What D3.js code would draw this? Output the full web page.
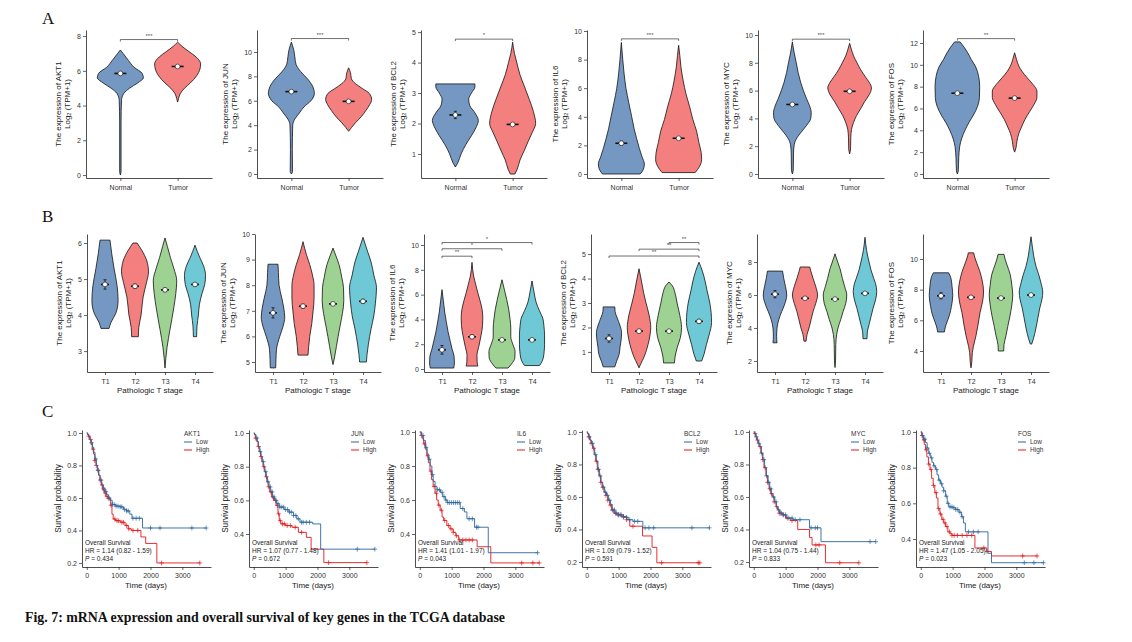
<!DOCTYPE html>
<html><head><meta charset="utf-8">
<script src="https://cdn.jsdelivr.net/npm/d3@7"></script>
<style>
body{margin:0;background:#fff}
svg text{font-family:Arial,"Liberation Sans",Helvetica,sans-serif}
svg text.serif{font-family:"Liberation Serif","Times New Roman",serif}
</style>
</head><body>
<svg id="c" width="1132" height="642"></svg>
<script>
// ---------------- DATA ----------------
const groupsA = ["Normal", "Tumor"];
const groupsB = ["T1", "T2", "T3", "T4"];
const genesA = ["AKT1", "JUN", "BCL2", "IL6", "MYC", "FOS"];
const genesB = ["AKT1", "JUN", "IL6", "BCL2", "MYC", "FOS"];
const genesC = ["AKT1", "JUN", "IL6", "BCL2", "MYC", "FOS"];

// violin outlines: [expression value, relative half-width]
const violinA_AKT1 = [
  [[0,0],[0.2,0.03],[3,0.03],[4.3,0.05],[4.7,0.15],[5.0,0.4],[5.3,0.75],[5.6,1.0],[5.85,0.95],[6.2,0.6],[6.6,0.35],[7.0,0.12],[7.2,0]],
  [[4.2,0],[4.4,0.04],[4.7,0.12],[5.0,0.3],[5.3,0.55],[5.7,0.82],[6.1,0.97],[6.4,1.0],[6.8,0.8],[7.1,0.5],[7.4,0.2],[7.65,0]]
];
const violinA_JUN = [
  [[0,0],[0.2,0.05],[2,0.04],[4,0.06],[4.5,0.15],[5,0.35],[5.5,0.55],[6,0.85],[6.6,1.0],[7.2,0.92],[7.8,0.7],[8.4,0.4],[9,0.2],[9.6,0.15],[10.2,0.1],[10.8,0]],
  [[3.5,0],[3.8,0.12],[4.2,0.3],[4.7,0.55],[5.2,0.75],[5.7,0.92],[6.1,1.0],[6.6,0.9],[7.0,0.6],[7.4,0.3],[7.8,0.12],[8.3,0.08],[8.7,0]]
];
const violinA_BCL2 = [
  [[0.57,0],[0.7,0.1],[1.0,0.25],[1.3,0.45],[1.6,0.7],[1.9,0.92],[2.1,1.0],[2.35,0.85],[2.6,0.62],[2.8,0.58],[3.0,0.7],[3.2,0.85],[3.3,0.85]],
  [[0.34,0.1],[0.5,0.2],[0.8,0.32],[1.1,0.5],[1.4,0.67],[1.7,0.85],[2.0,1.0],[2.4,0.9],[2.8,0.72],[3.2,0.52],[3.6,0.32],[4.0,0.18],[4.3,0.08],[4.67,0]]
];
const violinA_IL6 = [
  [[0,0.82],[0.3,0.95],[0.7,1.0],[1.2,0.9],[1.8,0.78],[2.5,0.66],[3.2,0.55],[4.0,0.45],[5.0,0.32],[6.0,0.2],[7.0,0.12],[8.0,0.06],[9.2,0]],
  [[0.1,0.72],[0.5,0.9],[1.0,1.0],[1.5,0.98],[2.2,0.88],[3.0,0.78],[3.8,0.62],[4.7,0.48],[5.6,0.32],[6.5,0.2],[7.5,0.1],[8.3,0.05],[9.0,0]]
];
const violinA_MYC = [
  [[0,0],[0.3,0.04],[1.5,0.05],[2.1,0.08],[2.6,0.2],[3.0,0.38],[3.5,0.62],[4.0,0.8],[4.4,0.82],[4.9,0.75],[5.4,0.62],[6.0,0.48],[6.6,0.36],[7.3,0.25],[8.0,0.17],[8.7,0.08],[9.5,0]],
  [[1.45,0],[1.8,0.04],[2.6,0.05],[3.2,0.08],[3.7,0.17],[4.2,0.3],[4.7,0.48],[5.2,0.65],[5.7,0.85],[6.2,0.95],[6.6,0.85],[7.0,0.68],[7.5,0.48],[8.0,0.32],[8.5,0.17],[9.0,0.07],[9.4,0]]
];
const violinA_FOS = [
  [[0,0],[0.3,0.04],[1.5,0.06],[2.5,0.1],[3.2,0.18],[4.0,0.33],[4.7,0.5],[5.4,0.7],[6.2,0.88],[7.0,0.96],[8.0,0.97],[9.0,0.92],[9.8,0.8],[10.5,0.6],[11.1,0.45],[11.6,0.3],[12.1,0.12]],
  [[2.0,0],[2.4,0.06],[3.0,0.1],[3.7,0.18],[4.3,0.3],[5.0,0.45],[5.7,0.65],[6.4,0.85],[7.0,0.97],[7.6,0.97],[8.2,0.8],[8.8,0.55],[9.4,0.32],[9.9,0.18],[10.5,0.08],[11.1,0]]
];
const meansA = [[5.85,6.25],[6.75,5.95],[2.28,1.97],[2.15,2.5],[5.0,5.95],[7.4,6.95]];
const errA = [[0.04,0.03],[0.08,0.03],[0.12,0.03],[0.15,0.04],[0.07,0.03],[0.12,0.04]];
const sigA = ["***","***","*","***","***","**"];
const sigLevelA = [7.8, 11.1, 4.77, 9.45, 9.7, 12.4];
const yDomA = [[-0.17,8.35],[-0.33,11.8],[0.21,5.07],[-0.28,10.07],[-0.29,10.36],[-0.37,13.19]];
const yTicksA = [[0,2,4,6,8],[0,2,4,6,8,10],[1,2,3,4,5],[0,2,4,6,8,10],[0,2,4,6,8,10],[0,2,4,6,8,10,12]];

const violinB_AKT1 = [
  [[3.63,0.3],[3.8,0.45],[4.05,0.8],[4.4,0.97],[4.8,0.9],[5.3,0.67],[5.7,0.5],[6.08,0.37]],
  [[3.4,0.25],[3.65,0.28],[4.0,0.45],[4.5,0.6],[4.9,0.85],[5.2,1.0],[5.5,0.88],[5.8,0.5],[6.0,0.15]],
  [[2.53,0],[2.8,0.06],[3.1,0.15],[3.6,0.37],[4.2,0.65],[4.6,0.8],[4.95,0.87],[5.3,0.65],[5.6,0.4],[5.9,0.18],[6.14,0]],
  [[3.4,0.12],[3.7,0.15],[4.0,0.25],[4.3,0.33],[4.6,0.52],[4.85,0.72],[5.1,0.78],[5.35,0.65],[5.6,0.35],[5.94,0]]
];
const violinB_JUN = [
  [[4.77,0.2],[5.1,0.22],[5.5,0.26],[6.0,0.5],[6.4,0.75],[6.75,0.87],[7.1,0.8],[7.5,0.65],[8.0,0.45],[8.5,0.4],[8.82,0.37]],
  [[5.27,0.37],[5.6,0.42],[6.0,0.5],[6.5,0.65],[7.0,0.75],[7.5,0.82],[8.0,0.82],[8.4,0.7],[8.8,0.5],[9.2,0.25],[9.7,0]],
  [[4.9,0],[5.2,0.12],[5.6,0.25],[6.0,0.38],[6.4,0.52],[6.9,0.7],[7.4,0.8],[7.9,0.78],[8.3,0.65],[8.8,0.45],[9.1,0.25],[9.45,0]],
  [[5.0,0.25],[5.3,0.3],[5.7,0.4],[6.3,0.6],[6.8,0.8],[7.3,0.92],[7.9,1.0],[8.4,0.8],[8.9,0.6],[9.3,0.35],[9.87,0]]
];
const violinB_IL6 = [
  [[0.08,0.87],[0.5,0.92],[1.0,0.9],[1.6,0.75],[2.2,0.62],[3.0,0.45],[3.8,0.32],[4.6,0.2],[5.5,0.1],[6.4,0]],
  [[0.24,0.43],[0.6,0.38],[1.1,0.37],[1.8,0.5],[2.7,0.67],[3.5,0.78],[4.1,0.8],[4.8,0.75],[5.5,0.6],[6.2,0.42],[6.8,0.28],[7.5,0.12],[8.6,0]],
  [[0.08,0.45],[0.4,0.7],[0.9,0.95],[1.4,0.97],[2.0,0.8],[2.6,0.65],[3.3,0.65],[4.0,0.6],[4.8,0.5],[5.6,0.35],[6.3,0.2],[7.2,0]],
  [[0.28,0.56],[0.7,0.78],[1.4,0.9],[2.0,0.93],[2.75,0.93],[3.5,0.88],[4.1,0.8],[4.7,0.55],[5.4,0.3],[6.2,0.15],[7.1,0]]
];
const violinB_BCL2 = [
  [[0.39,0.43],[0.6,0.55],[0.9,0.75],[1.2,0.82],[1.5,0.9],[1.8,0.93],[2.1,0.8],[2.4,0.6],[2.65,0.45],[2.84,0.43]],
  [[0.35,0],[0.5,0.12],[0.8,0.38],[1.3,0.67],[1.7,0.82],[2.0,0.87],[2.5,0.75],[3.0,0.52],[3.4,0.35],[3.9,0.18],[4.4,0]],
  [[0.55,0.4],[0.8,0.45],[1.2,0.62],[1.6,0.85],[2.0,0.93],[2.5,0.8],[3.0,0.6],[3.4,0.45],[3.7,0.25],[3.86,0]],
  [[0.63,0.2],[0.9,0.37],[1.3,0.55],[1.7,0.75],[2.2,0.93],[2.6,0.9],[3.0,0.8],[3.5,0.6],[3.9,0.45],[4.3,0.25],[4.67,0]]
];
const violinB_MYC = [
  [[3.1,0.15],[3.5,0.12],[4.0,0.15],[4.5,0.28],[5.0,0.5],[5.4,0.7],[6.0,0.87],[6.5,0.78],[7.0,0.65],[7.45,0.56]],
  [[3.2,0.08],[3.6,0.15],[4.0,0.3],[4.5,0.45],[5.0,0.6],[5.5,0.8],[6.0,0.93],[6.5,0.8],[7.0,0.6],[7.4,0.45],[7.7,0.35]],
  [[1.6,0],[2.0,0.04],[3.0,0.06],[3.6,0.12],[4.0,0.22],[4.5,0.42],[5.0,0.6],[5.5,0.8],[6.0,0.87],[6.5,0.72],[7.0,0.55],[7.6,0.37],[8.0,0.2],[8.5,0]],
  [[3.35,0.15],[3.8,0.18],[4.2,0.3],[4.7,0.45],[5.2,0.6],[5.7,0.78],[6.2,0.87],[6.7,0.78],[7.0,0.65],[7.5,0.45],[8.0,0.3],[8.7,0.12],[9.5,0]]
];
const violinB_FOS = [
  [[5.24,0.25],[5.5,0.3],[5.9,0.45],[6.4,0.65],[6.9,0.77],[7.6,0.87],[8.2,0.82],[8.8,0.72],[9.1,0.56]],
  [[2.9,0],[3.3,0.06],[3.9,0.1],[4.3,0.18],[5.0,0.37],[5.7,0.52],[6.5,0.67],[7.2,0.85],[7.85,0.93],[8.5,0.85],[9.2,0.65],[9.8,0.4],[10.2,0.25],[10.4,0.2]],
  [[4.0,0.2],[4.4,0.22],[5.0,0.37],[5.6,0.5],[6.3,0.67],[7.0,0.8],[7.65,0.87],[8.3,0.8],[9.0,0.68],[9.6,0.45],[10.0,0.3],[10.3,0.22]],
  [[4.45,0.05],[4.8,0.18],[5.5,0.37],[6.2,0.52],[6.8,0.65],[7.4,0.82],[7.85,0.87],[8.4,0.75],[8.9,0.6],[9.5,0.38],[10.2,0.2],[10.8,0.1],[11.45,0]]
];
const meansB = [[4.85,4.8,4.7,4.85],[6.92,7.18,7.27,7.37],[1.55,2.6,2.35,2.35],[1.55,1.85,1.85,2.25],[6.05,5.8,5.75,6.1],[7.6,7.5,7.45,7.65]];
const errB = [[0.13,0.06,0.05,0.05],[0.2,0.08,0.06,0.08],[0.35,0.15,0.12,0.12],[0.15,0.07,0.06,0.08],[0.22,0.08,0.06,0.08],[0.2,0.1,0.08,0.1]];
// brackets: [from group, to group, level, label]
const sigB = [[], [], [[0,1,9.1,"**"],[0,2,9.7,"*"],[0,3,10.2,"*"]], [[0,3,4.92,"**"],[1,3,5.2,"**"],[2,3,5.47,"**"]], [], []];
const yDomB = [[2.42,6.25],[4.61,10.0],[-0.24,10.89],[0.18,5.82],[1.33,9.70],[2.63,11.63]];
const yTicksB = [[3,4,5,6],[5,6,7,8,9,10],[0,2,4,6,8,10],[1,2,3,4,5],[2,4,6,8],[4,6,8,10]];

// Kaplan-Meier steps: [time (days), survival]
const kmAKT1Low = [[0,1],[30,0.99],[60,0.98],[100,0.96],[140,0.94],[180,0.91],[220,0.88],[260,0.84],[300,0.8],[340,0.77],[380,0.74],[420,0.71],[470,0.68],[520,0.66],[570,0.64],[620,0.62],[680,0.6],[740,0.585],[800,0.56],[900,0.55],[1050,0.545],[1150,0.53],[1250,0.52],[1350,0.5],[1420,0.475],[1750,0.415],[3750,0.415]];
const kmAKT1High = [[0,1],[20,0.99],[50,0.98],[90,0.96],[130,0.93],[170,0.9],[210,0.87],[250,0.83],[290,0.8],[330,0.77],[370,0.74],[410,0.71],[450,0.68],[500,0.65],[550,0.63],[600,0.61],[660,0.595],[750,0.555],[790,0.5],[830,0.47],[900,0.46],[1050,0.45],[1200,0.43],[1300,0.41],[1400,0.4],[1700,0.36],[1850,0.32],[2200,0.2],[3550,0.2]];
const censAKT1Low = [150,280,350,450,520,600,700,800,860,920,980,1050,1100,1180,1250,1300,1450,1550,1650,2000,2300,3300,3750];
const censAKT1High = [60,120,200,250,300,360,420,480,540,580,630,700,760,880,950,1000,1100,1150,1250,1320,1450,1600,2350,3550];

const kmJUNLow = [[0,1],[30,0.99],[70,0.97],[110,0.95],[150,0.92],[190,0.89],[230,0.86],[270,0.83],[310,0.8],[350,0.77],[390,0.74],[430,0.71],[480,0.68],[530,0.65],[590,0.62],[650,0.6],[720,0.58],[800,0.56],[950,0.545],[1100,0.53],[1250,0.51],[1350,0.49],[1450,0.47],[1850,0.46],[2100,0.31],[3800,0.31]];
const kmJUNHigh = [[0,1],[20,0.99],[50,0.97],[90,0.95],[130,0.92],[170,0.89],[210,0.86],[250,0.83],[290,0.8],[330,0.77],[370,0.74],[410,0.71],[450,0.68],[500,0.65],[560,0.62],[620,0.6],[700,0.57],[760,0.52],[800,0.48],[850,0.46],[1000,0.45],[1200,0.44],[1400,0.41],[1650,0.38],[1800,0.31],[2200,0.23],[3550,0.23]];
const censJUNLow = [100,200,300,380,450,520,580,640,700,760,820,880,940,1000,1060,1120,1180,1250,1320,1400,1500,1550,1650,1750,3250,3800];
const censJUNHigh = [60,150,230,320,400,470,540,600,680,740,780,830,900,960,1050,1150,1300,1500,2350,3550];

const kmIL6Low = [[0,1],[60,0.98],[120,0.95],[180,0.91],[230,0.87],[280,0.84],[330,0.8],[380,0.75],[420,0.71],[480,0.68],[540,0.66],[650,0.645],[720,0.62],[800,0.6],[860,0.585],[1270,0.55],[1400,0.53],[1480,0.49],[1720,0.44],[2150,0.29],[3700,0.29]];
const kmIL6High = [[0,1],[40,0.98],[80,0.96],[120,0.93],[170,0.9],[220,0.86],[270,0.82],[320,0.77],[370,0.72],[420,0.68],[480,0.64],[530,0.6],[580,0.57],[640,0.54],[700,0.5],[750,0.48],[850,0.45],[950,0.43],[1050,0.41],[1130,0.39],[1220,0.365],[1800,0.325],[2230,0.23],[3750,0.23]];
const censIL6Low = [100,200,300,400,550,620,700,760,820,880,940,1000,1060,1120,1180,1240,1350,1550,1650,1780,1830,3700];
const censIL6High = [50,150,250,350,450,520,600,680,780,900,980,1050,1150,1250,1350,1450,1550,1650,3200,3550,3750];

const kmBCL2Low = [[0,1],[30,0.99],[70,0.97],[110,0.95],[150,0.93],[200,0.9],[250,0.86],[300,0.82],[350,0.77],[400,0.73],[450,0.69],[500,0.66],[560,0.63],[620,0.61],[680,0.58],[740,0.555],[800,0.52],[880,0.5],[1000,0.49],[1150,0.475],[1300,0.46],[1450,0.45],[1760,0.41],[3850,0.41]];
const kmBCL2High = [[0,1],[20,0.99],[50,0.97],[90,0.95],[130,0.93],[180,0.9],[230,0.86],[280,0.82],[330,0.77],[380,0.73],[430,0.69],[480,0.66],[540,0.63],[600,0.61],[660,0.58],[720,0.55],[780,0.52],[850,0.5],[950,0.49],[1100,0.48],[1250,0.46],[1350,0.42],[1750,0.36],[2050,0.29],[2200,0.195],[3550,0.195]];
const censBCL2Low = [80,180,280,350,420,500,580,650,720,800,870,930,1000,1080,1150,1250,1350,1500,1600,1830,1950,2100,3300,3850];
const censBCL2High = [60,140,220,300,370,440,520,600,660,740,820,900,980,1050,1150,1250,1450,2350,3500,3550];

const kmMYCLow = [[0,1],[30,0.99],[70,0.97],[110,0.95],[150,0.93],[190,0.91],[240,0.87],[290,0.83],[340,0.78],[400,0.73],[450,0.69],[500,0.65],[550,0.62],[600,0.6],[660,0.57],[710,0.54],[760,0.52],[820,0.5],[920,0.49],[1020,0.47],[1230,0.46],[1750,0.41],[2110,0.325],[3830,0.325]];
const kmMYCHigh = [[0,1],[20,0.99],[50,0.97],[90,0.95],[130,0.93],[170,0.91],[220,0.87],[270,0.83],[320,0.78],[380,0.73],[430,0.69],[480,0.65],[530,0.62],[580,0.6],[640,0.57],[700,0.54],[750,0.52],[800,0.5],[900,0.49],[1000,0.47],[1150,0.455],[1380,0.4],[1750,0.35],[1830,0.305],[2250,0.195],[3300,0.195]];
const censMYCLow = [80,160,240,320,400,470,540,620,700,780,850,920,1000,1100,1200,1300,1450,1800,1930,2000,3650,3830];
const censMYCHigh = [40,120,200,280,360,430,500,560,640,720,800,860,940,1050,1200,1950,2050,2700,3300];

const kmFOSLow = [[0,1],[40,0.98],[90,0.96],[150,0.94],[200,0.91],[250,0.88],[300,0.855],[350,0.83],[400,0.81],[460,0.79],[510,0.76],[560,0.73],[620,0.71],[670,0.69],[720,0.67],[780,0.64],[830,0.6],[880,0.58],[1000,0.575],[1100,0.565],[1200,0.55],[1280,0.525],[1340,0.49],[1400,0.44],[2110,0.32],[2220,0.267],[3850,0.267]];
const kmFOSHigh = [[0,1],[30,0.98],[70,0.955],[110,0.93],[150,0.9],[190,0.86],[240,0.82],[290,0.79],[340,0.74],[390,0.7],[440,0.66],[490,0.63],[540,0.57],[600,0.54],[660,0.51],[720,0.49],[780,0.47],[850,0.44],[920,0.43],[980,0.42],[1700,0.35],[2070,0.33],[2220,0.305],[3650,0.305]];
const censFOSLow = [60,130,200,270,340,420,500,580,650,720,800,860,920,980,1040,1100,1160,1230,1300,1500,1650,1800,3250,3550,3850];
const censFOSHigh = [40,100,170,250,320,400,480,560,620,700,760,820,900,980,1050,1150,1300,1450,1600,1980,2080,3200,3650];

const hrText = ["HR = 1.14 (0.82 - 1.59)","HR = 1.07 (0.77 - 1.48)","HR = 1.41 (1.01 - 1.97)","HR = 1.09 (0.79 - 1.52)","HR = 1.04 (0.75 - 1.44)","HR = 1.47 (1.05 - 2.05)"];
const pText = ["0.434","0.672","0.043","0.591","0.833","0.023"];
const yDomC = [[0.175,1.018],[0.204,1.018],[0.206,1.012],[0.169,1.012],[0.169,1.012],[0.243,1.011]];
const yTicksC = [[0.2,0.4,0.6,0.8,1.0],[0.4,0.6,0.8,1.0],[0.4,0.6,0.8,1.0],[0.2,0.4,0.6,0.8,1.0],[0.2,0.4,0.6,0.8,1.0],[0.4,0.6,0.8,1.0]];
const xTicksC = [0, 1000, 2000, 3000];

// ---------------- DRAWING ----------------
const svg = d3.select("#c");
const colA = ["#7598c2", "#f37f7f"];
const colB = ["#7598c2", "#f37f7f", "#9dd292", "#6ec8d6"];
const kmLowCol = "#2d679c", kmHighCol = "#e3191c";
const axisCol = "#222";

function styleAxis(g, fs) {
  g.select(".domain").attr("stroke", axisCol).attr("stroke-width", 0.8);
  g.selectAll(".tick line").attr("stroke", axisCol).attr("stroke-width", 0.7);
  g.selectAll(".tick text").attr("fill", "#333").attr("font-size", fs);
}

function yTitle(g, x, y, gene) {
  g.append("text").attr("transform", `translate(${x - 19},${y}) rotate(-90)`).attr("dy", "0.35em")
    .attr("text-anchor", "middle").attr("font-size", 8).attr("fill", "#222").text("The expression of " + gene);
  const t = g.append("text").attr("transform", `translate(${x - 10},${y}) rotate(-90)`).attr("dy", "0.35em")
    .attr("text-anchor", "middle").attr("font-size", 8).attr("fill", "#222");
  t.append("tspan").text("Log");
  t.append("tspan").attr("font-size", 5.5).attr("dy", "0.25em").text("2");
  t.append("tspan").attr("dy", "-0.18em").text(" (TPM+1)");
}

function violinPanel(o) {
  const g = svg.append("g");
  const x = d3.scalePoint().domain(o.cats).range([o.ax, o.ax + 126]).padding(0.6);
  const y = d3.scaleLinear().domain(o.yDom).range([o.bottom, o.top]);
  o.profiles.forEach((prof, i) => {
    const cx = x(o.cats[i]);
    const area = d3.area().y(d => y(d[0])).x0(d => cx - d[1] * o.hw).x1(d => cx + d[1] * o.hw).curve(d3.curveMonotoneY);
    g.append("path").attr("d", area(prof)).attr("fill", o.colors[i]).attr("stroke", "#111").attr("stroke-width", 0.8);
  });
  o.means.forEach((m, i) => {
    const cx = x(o.cats[i]);
    const e = o.errs[i];
    g.append("line").attr("x1", cx - o.bar).attr("x2", cx + o.bar).attr("y1", y(m)).attr("y2", y(m)).attr("stroke", "#111").attr("stroke-width", 1.6);
    g.append("line").attr("x1", cx).attr("x2", cx).attr("y1", y(m - e)).attr("y2", y(m + e)).attr("stroke", "#111").attr("stroke-width", 0.8);
    [m - e, m + e].forEach(v => g.append("line").attr("x1", cx - 1.5).attr("x2", cx + 1.5).attr("y1", y(v)).attr("y2", y(v)).attr("stroke", "#111").attr("stroke-width", 0.8));
    g.append("circle").attr("cx", cx).attr("cy", y(m)).attr("r", 2.4).attr("fill", "#fff").attr("stroke", "#111").attr("stroke-width", 0.6);
  });
  o.brackets.forEach(b => {
    const x1 = x(o.cats[b[0]]), x2 = x(o.cats[b[1]]), yy = y(b[2]);
    g.append("path").attr("d", `M${x1},${yy + 2}V${yy}H${x2}V${yy + 2}`).attr("fill", "none").attr("stroke", "#333").attr("stroke-width", 0.7);
    g.append("text").attr("x", (x1 + x2) / 2).attr("y", yy - 1.8).attr("text-anchor", "middle").attr("font-size", 6).attr("fill", "#555").text(b[3]);
  });
  const gy = g.append("g").attr("transform", `translate(${o.ax},0)`)
    .call(d3.axisLeft(y).tickValues(o.ticks).tickFormat(d3.format("d")).tickSize(3).tickPadding(2).tickSizeOuter(0));
  styleAxis(gy, 7);
  const gx = g.append("g").attr("transform", `translate(0,${o.bottom})`)
    .call(d3.axisBottom(x).tickSize(3).tickPadding(4.5).tickSizeOuter(0));
  styleAxis(gx, 7);
  const bb = gy.node().getBBox();
  yTitle(g, o.ax + bb.x, (o.top + o.bottom) / 2, o.gene);
  if (o.xTitle) {
    g.append("text").attr("x", o.ax + 63).attr("y", o.bottom + 21).attr("text-anchor", "middle").attr("font-size", 8).attr("fill", "#222").text(o.xTitle);
  }
}

function survAt(steps, t) {
  let s = steps[0][1];
  for (const d of steps) { if (d[0] <= t) s = d[1]; else break; }
  return s;
}

function kmPanel(o) {
  const g = svg.append("g");
  const x = d3.scaleLinear().domain([-150, 3900]).range([o.ax, o.ax + 129]);
  const y = d3.scaleLinear().domain(o.yDom).range([o.bottom, o.top]);
  const line = d3.line().x(d => x(d[0])).y(d => y(d[1])).curve(d3.curveStepAfter);
  [[o.high, o.highC, kmHighCol], [o.low, o.lowC, kmLowCol]].forEach(([steps, cens, col]) => {
    g.append("path").attr("d", line(steps)).attr("fill", "none").attr("stroke", col).attr("stroke-width", 0.9);
    cens.forEach(t => {
      const px = x(t), py = y(survAt(steps, t));
      g.append("path").attr("d", `M${px - 2.2},${py}H${px + 2.2}M${px},${py - 2.4}V${py + 2.4}`).attr("stroke", col).attr("stroke-width", 0.7);
    });
  });
  const gy = g.append("g").attr("transform", `translate(${o.ax},0)`)
    .call(d3.axisLeft(y).tickValues(o.ticks).tickFormat(d3.format(".1f")).tickSize(3).tickPadding(2).tickSizeOuter(0));
  styleAxis(gy, 7);
  const gx = g.append("g").attr("transform", `translate(0,${o.bottom})`)
    .call(d3.axisBottom(x).tickValues(xTicksC).tickFormat(d3.format("d")).tickSize(3).tickPadding(3.5).tickSizeOuter(0));
  styleAxis(gx, 7);
  const bb = gy.node().getBBox();
  g.append("text").attr("transform", `translate(${o.ax + bb.x - 9},${(o.top + o.bottom) / 2}) rotate(-90)`).attr("dy", "0.35em")
    .attr("text-anchor", "middle").attr("font-size", 8.2).attr("fill", "#222").text("Survival probability");
  g.append("text").attr("x", o.ax + 64).attr("y", o.bottom + 21).attr("text-anchor", "middle").attr("font-size", 8).attr("fill", "#222").text("Time (days)");
  const lx = o.ax + 129 - 27;
  g.append("text").attr("x", lx).attr("y", 435.5).attr("font-size", 6.5).attr("fill", "#333").text(o.gene);
  [["Low", kmLowCol, 442], ["High", kmHighCol, 450]].forEach(([lab, col, yy]) => {
    g.append("line").attr("x1", lx).attr("x2", lx + 8).attr("y1", yy).attr("y2", yy).attr("stroke", col).attr("stroke-width", 1);
    g.append("text").attr("x", lx + 12).attr("y", yy + 2.4).attr("font-size", 6.5).attr("fill", "#333").text(lab);
  });
  const tx = o.ax + 3;
  g.append("text").attr("x", tx).attr("y", 544.5).attr("font-size", 6.5).attr("fill", "#222").text("Overall Survival");
  g.append("text").attr("x", tx).attr("y", 552.5).attr("font-size", 6.5).attr("fill", "#222").text(o.hr);
  const pt = g.append("text").attr("x", tx).attr("y", 560.5).attr("font-size", 6.5).attr("fill", "#222");
  pt.append("tspan").attr("font-style", "italic").text("P");
  pt.append("tspan").text(" = " + o.p);
}

// Row A
const axA = [86, 257, 421, 587, 758, 923];
const violinsA = [violinA_AKT1, violinA_JUN, violinA_BCL2, violinA_IL6, violinA_MYC, violinA_FOS];
genesA.forEach((gene, i) => violinPanel({
  ax: axA[i], top: 30, bottom: 178, yDom: yDomA[i], ticks: yTicksA[i], cats: groupsA, colors: colA,
  profiles: violinsA[i], means: meansA[i], errs: errA[i], hw: 23, bar: 6, gene: gene,
  brackets: [[0, 1, sigLevelA[i], sigA[i]]], xTitle: null
}));

// Row B
const axB = [87, 255, 424, 591, 757, 923];
const violinsB = [violinB_AKT1, violinB_JUN, violinB_IL6, violinB_BCL2, violinB_MYC, violinB_FOS];
genesB.forEach((gene, i) => violinPanel({
  ax: axB[i], top: 234, bottom: 372, yDom: yDomB[i], ticks: yTicksB[i], cats: groupsB, colors: colB,
  profiles: violinsB[i], means: meansB[i], errs: errB[i], hw: 13.5, bar: 4, gene: gene,
  brackets: sigB[i], xTitle: "Pathologic T stage"
}));

// Row C
const axC = [82, 249, 415, 582, 749, 916];
const kmLow = [kmAKT1Low, kmJUNLow, kmIL6Low, kmBCL2Low, kmMYCLow, kmFOSLow];
const kmHigh = [kmAKT1High, kmJUNHigh, kmIL6High, kmBCL2High, kmMYCHigh, kmFOSHigh];
const censLow = [censAKT1Low, censJUNLow, censIL6Low, censBCL2Low, censMYCLow, censFOSLow];
const censHigh = [censAKT1High, censJUNHigh, censIL6High, censBCL2High, censMYCHigh, censFOSHigh];
genesC.forEach((gene, i) => kmPanel({
  ax: axC[i], top: 430, bottom: 567, yDom: yDomC[i], ticks: yTicksC[i], gene: gene,
  low: kmLow[i], high: kmHigh[i], lowC: censLow[i], highC: censHigh[i], hr: hrText[i], p: pText[i]
}));

// Panel letters and caption
[["A", 24], ["B", 222], ["C", 417]].forEach(([l, yy]) => {
  svg.append("text").attr("class", "serif").attr("x", 42).attr("y", yy)
    .attr("font-size", 17).attr("fill", "#111").text(l);
});
svg.append("text").attr("class", "serif").attr("x", 25).attr("y", 622)
  .attr("font-weight", "bold").attr("font-size", 14).attr("fill", "#111")
  .attr("textLength", 480).attr("lengthAdjust", "spacingAndGlyphs")
  .text("Fig. 7: mRNA expression and overall survival of key genes in the TCGA database");
</script>
</body></html>
